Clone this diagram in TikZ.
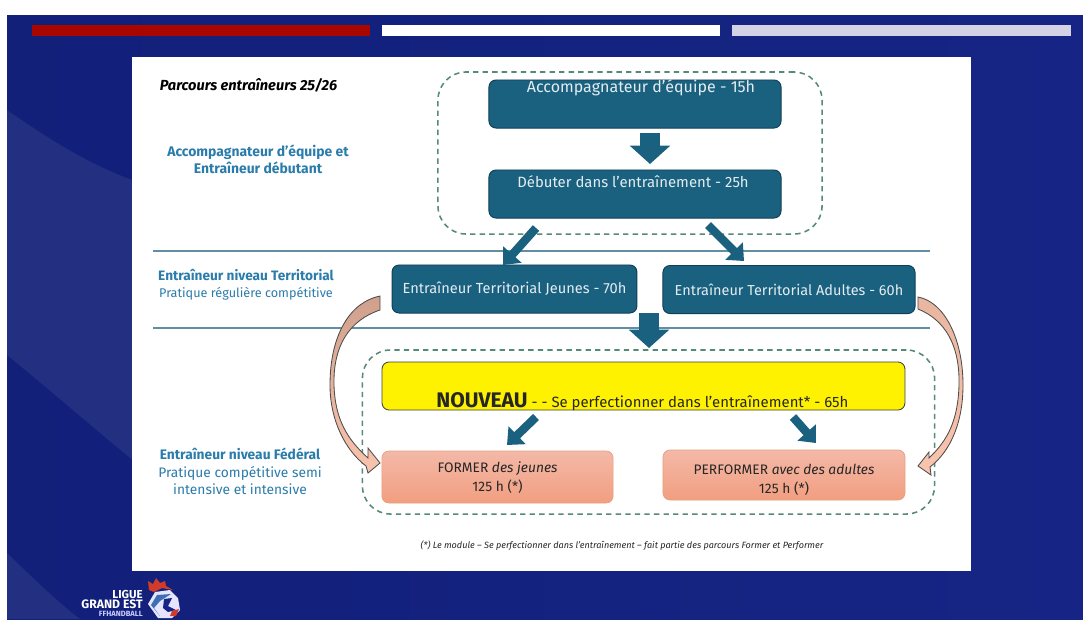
\documentclass[tikz,border=0pt]{standalone}
\usepackage{fontspec}
\setmainfont{Fira Sans}
\usetikzlibrary{arrows.meta}

\definecolor{slideblue}{HTML}{162485}
\definecolor{slidedark}{HTML}{12207A}
\definecolor{slidelight}{HTML}{232F80}
\definecolor{tealbox}{HTML}{1A6180}
\definecolor{tealline}{HTML}{123F55}
\definecolor{labelblue}{HTML}{2A7CAB}
\definecolor{dashgreen}{HTML}{558A74}
\definecolor{ruleblue}{HTML}{5F8EA5}
\definecolor{salmontop}{HTML}{F3B9A8}
\definecolor{salmonbot}{HTML}{F29E80}
\definecolor{salmonline}{HTML}{E8A080}
\definecolor{salmonmid}{HTML}{CFA08C}
\definecolor{salmonpale}{HTML}{F9C4AE}
\definecolor{logosteel}{HTML}{3C6FB4}
\definecolor{logored}{HTML}{D23A2A}

\tikzset{
  tealnode/.style={draw=tealline, fill=tealbox, rounded corners=5pt, line width=0.7pt, text=white!88!tealbox, font=\fontsize{10.6}{12}\selectfont},
  salmonnode/.style={draw=salmonline, top color=salmontop, bottom color=salmonbot, rounded corners=5pt, line width=0.5pt},
  salmontext/.style={text=black!85, align=center, font=\fontsize{9.8}{13.5}\selectfont},
  dashgroup/.style={draw=dashgreen, line width=1.1pt, rounded corners=20pt, dash pattern=on 3.8pt off 3pt},
  sidelabel/.style={text=labelblue, align=center, font=\fontsize{9.8}{12.4}\selectfont},
  fatarrow/.style={draw=tealbox, line width=14pt, -{Triangle[length=13pt,width=28pt]}},
  slimarrow/.style={draw=tealbox, line width=6pt, -{Triangle[length=10pt,width=17pt]}},
  sectionrule/.style={draw=ruleblue, line width=1.1pt},
  bendarrow/.style={draw=black!70, line width=0.6pt, top color=#1, bottom color=salmonpale},
  bendarrow/.default=salmonmid,
}

\begin{document}
\begin{tikzpicture}[x=0.025cm,y=-0.025cm]
\useasboundingbox (0,0) rectangle (1083,619);
\clip (0,0) rectangle (1083,619);

% slide background
\fill [white] (0,0) rectangle (1083,619);
\fill [left color=slidedark, right color=slideblue] (7,15) rectangle (1083,619);
\fill [slidelight] (7,110) .. controls (50,140) and (90,165) .. (135,181) -- (135,462) .. controls (90,425) and (50,390) .. (7,355) -- cycle;
\fill [slidelight] (7,553) .. controls (30,575) and (55,600) .. (80,619) -- (7,619) -- cycle;

% top bars
\fill [red!65!black!95!orange] (32,25) rectangle (370,36);
\fill [white] (382,25) rectangle (720,36);
\fill [blue!8!white!90!black] (732,25) rectangle (1071,36);

% panel
\fill [white] (132,57) rectangle (971,571);

% section rules
\coordinate (ruleAw) at (153,251);
\coordinate (ruleAe) at (930,251);
\coordinate (ruleBw) at (153,328);
\coordinate (ruleBe) at (930,328);
\draw [sectionrule] (ruleAw) -- (ruleAe);
\draw [sectionrule] (ruleBw) -- (ruleBe);

% dashed groups
\node [dashgroup, minimum width=9.6cm, minimum height=4.05cm] (groupTop) at (630,153) {};
\node [dashgroup, minimum width=14.3cm, minimum height=4.1cm] (groupLow) at (648.5,432) {};

% boxes
\node [tealnode, minimum width=7.3cm, minimum height=1.2cm] (boxAcc) at (635,104) {};
\node [tealnode, minimum width=7.3cm, minimum height=1.2cm] (boxDeb) at (635,194) {};
\node [tealnode, draw=none, fill=none, font=\fontsize{11.4}{12}\selectfont] (txtAcc) at (641,88) {Accompagnateur d’équipe - 15h};
\node [tealnode, draw=none, fill=none] (txtDeb) at (633,182) {Débuter dans l’entraînement - 25h};
\node [tealnode, minimum width=6.12cm, minimum height=1.2cm, font=\fontsize{10.4}{12}\selectfont] (boxJeunes) at (514.5,289) {Entraîneur Territorial Jeunes - 70h};
\node [tealnode, minimum width=6.3cm, minimum height=1.2cm, font=\fontsize{10.3}{12}\selectfont] (boxAdultes) at (789,289.5) {Entraîneur Territorial Adultes - 60h};
\node [draw=black!75, fill=yellow, rounded corners=5pt, line width=0.6pt, minimum width=13.07cm, minimum height=1.2cm] (boxNew) at (643.5,386) {};
\node [anchor=base west, inner sep=0pt, text=black!85, font=\fontsize{10.6}{12}\selectfont] (txtNew) at (436,407) {{\fontsize{15}{16}\selectfont\bfseries NOUVEAU} - - Se perfectionner dans l’entraînement* - 65h};
\node [salmonnode, minimum width=5.78cm, minimum height=1.3cm] (boxFormer) at (497.5,477) {};
\node [salmonnode, minimum width=6.05cm, minimum height=1.25cm] (boxPerf) at (784,475) {};
\node [salmontext] (txtFormer) at (497.5,478) {FORMER \textit{des jeunes}\\125 h (*)};
\node [salmontext] (txtPerf) at (784,480) {PERFORMER \textit{avec des adultes}\\125 h (*)};

% side labels
\node [text=black, font=\fontsize{10.4}{12}\selectfont\bfseries\itshape] (title) at (248.5,85) {Parcours entraîneurs 25/26};
\node [sidelabel, font=\fontsize{9.9}{12.2}\selectfont\bfseries] (sideA) at (258,159.5) {Accompagnateur d’équipe et\\Entraîneur débutant};
\node [sidelabel, font=\fontsize{9}{12.4}\selectfont] (sideB) at (246,285) {{\fontsize{9.7}{12.4}\selectfont\bfseries Entraîneur niveau Territorial}\\Pratique régulière compétitive};
\node [sidelabel] (sideC) at (240,471.5) {\textbf{Entraîneur niveau Fédéral}\\Pratique compétitive semi\\intensive et intensive};
\node [text=black!85, font=\fontsize{6.45}{7}\selectfont\itshape] (note) at (622,546) {(*) Le module – Se perfectionner dans l’entraînement – fait partie des parcours Former et Performer};

% straight arrows
\coordinate (downAs) at (650,133);
\coordinate (downAe) at (650,164);
\coordinate (downBs) at (649,313);
\coordinate (downBe) at (649,348);
\coordinate (diagAs) at (536,228);
\coordinate (diagAe) at (503,265);
\coordinate (diagBs) at (708,225);
\coordinate (diagBe) at (744,261);
\coordinate (diagCs) at (536,417);
\coordinate (diagCe) at (507,445);
\coordinate (diagDs) at (793,417);
\coordinate (diagDe) at (816,443);
\draw [fatarrow] (downAs) -- (downAe);
\draw [fatarrow] (downBs) -- (downBe);
\draw [slimarrow] (diagAs) -- (diagAe);
\draw [slimarrow] (diagBs) -- (diagBe);
\draw [slimarrow] (diagCs) -- (diagCe);
\draw [slimarrow] (diagDs) -- (diagDe);

% bent arrows
\path [bendarrow] (380,296) .. controls (350,302) and (330,335) .. (330,385)
  .. controls (330,420) and (345,450) .. (366,466) -- (368,473) -- (380,463) -- (368,448) -- (368,458)
  .. controls (348,440) and (335,420) .. (334,385)
  .. controls (333,345) and (350,320) .. (380,310) -- cycle;
\path [bendarrow=salmonpale!60!salmonmid] (918,297) .. controls (945,302) and (963,340) .. (963,385)
  .. controls (963,420) and (952,450) .. (930,467) -- (931,475) -- (918,466) -- (929,452) -- (929,458)
  .. controls (948,440) and (958,420) .. (959,385)
  .. controls (960,345) and (945,320) .. (918,309) -- cycle;

% logo
\node [anchor=east, inner sep=0pt, text=white, font=\fontsize{8.2}{9}\selectfont\bfseries] (logoA) at (143,594) {LIGUE};
\node [anchor=east, inner sep=0pt, text=white, font=\fontsize{8.7}{9}\selectfont\bfseries] (logoB) at (143,604) {GRAND EST};
\node [anchor=east, inner sep=0pt, text=white!80!blue, font=\fontsize{5.4}{6}\selectfont\bfseries] (logoC) at (143,614) {FFHANDBALL};
\fill [logored] (149,590) -- (148,581) -- (153,584) -- (156,578) -- (160,583) -- (165,581) -- (166,586) -- (173,590) -- (162,588) -- (154,592) -- cycle;
\fill [white!90!blue] (155,592) -- (170,590) -- (178,598) -- (180,610) -- (172,618) -- (158,618) -- (148,604) -- cycle;
\fill [logosteel] (157,595) -- (171,594) -- (160,601) -- (154,608) -- (160,616) -- (151,605) -- cycle;
\fill [slideblue] (164,599) -- (172,598) -- (168,606) -- (176,610) -- (168,612) -- (163,608) -- cycle;
\fill [logored] (172,611) -- (179,609) -- (176,616) -- (170,616) -- cycle;
\end{tikzpicture}
\end{document}
